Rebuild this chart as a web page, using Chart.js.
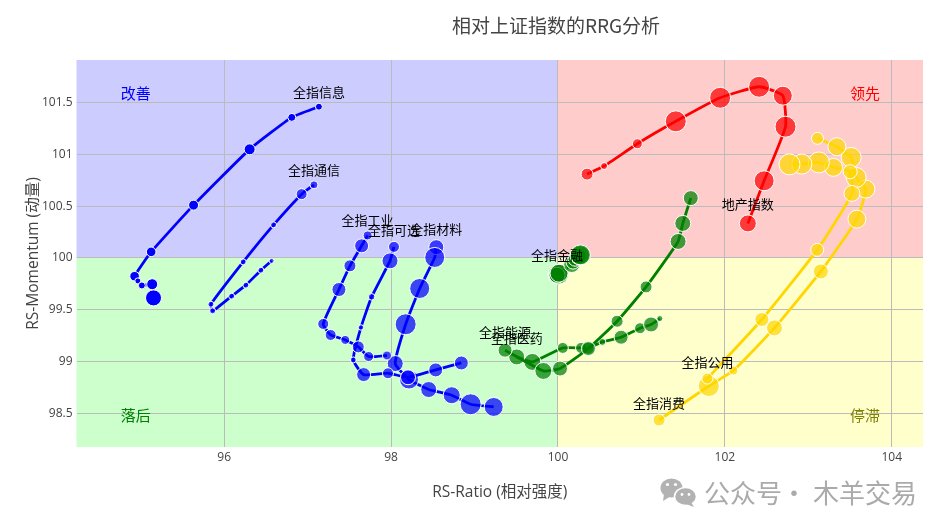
<!DOCTYPE html>
<html><head><meta charset="utf-8">
<style>html,body{margin:0;padding:0;background:#fff}canvas{display:block}</style>
<script src="https://cdn.jsdelivr.net/npm/chart.js@4"></script>
</head><body><canvas id="c" width="948" height="531"></canvas>
<script>
const chartTitle = '相对上证指数的RRG分析';
const xTitle = 'RS-Ratio (相对强度)';
const yTitle = 'RS-Momentum (动量)';
const xTicks = [96, 98, 100, 102, 104];
const yTicks = [98.5, 99, 99.5, 100, 100.5, 101, 101.5];
const quadrantNames = ['改善', '领先', '落后', '停滞'];
const quadrantX = [94.94, 103.68, 94.94, 103.68];
const quadrantY = [101.59, 101.59, 98.484, 98.484];

const xinxiX = [97.135, 96.81, 96.305, 95.633, 95.125, 94.926, 94.965, 95.013, 95.137, 95.153];
const xinxiY = [101.458, 101.355, 101.047, 100.509, 100.059, 99.824, 99.779, 99.735, 99.747, 99.615];
const xinxiM = [35, 40, 55, 50, 48, 48, 30, 35, 55, 80];

const tongxinX = [97.076, 96.928, 96.592, 96.228, 95.841, 95.861, 96.089, 96.26, 96.44, 96.568];
const tongxinY = [100.705, 100.615, 100.319, 99.962, 99.554, 99.49, 99.632, 99.738, 99.882, 99.972];
const tongxinM = [40, 55, 30, 30, 30, 30, 30, 30, 30, 25];

const gongyeX = [97.719, 97.647, 97.507, 97.375, 97.187, 97.276, 97.451, 97.607, 97.731, 97.951];
const gongyeY = [100.217, 100.117, 99.924, 99.696, 99.364, 99.258, 99.21, 99.143, 99.05, 99.06];
const gongyeM = [45, 70, 60, 70, 55, 55, 45, 60, 50, 45];

const kexuanX = [98.035, 97.987, 97.767, 97.639, 97.547, 97.671, 97.963, 98.203, 98.535, 98.842];
const kexuanY = [100.107, 99.972, 99.625, 99.33, 99.017, 98.876, 98.889, 98.85, 98.921, 98.988];
const kexuanM = [55, 80, 33, 27, 30, 70, 55, 75, 70, 70];

const cailiaoX = [98.542, 98.523, 98.343, 98.175, 98.05, 98.215, 98.451, 98.727, 98.954, 99.23];
const cailiaoY = [100.104, 100.005, 99.706, 99.361, 98.982, 98.828, 98.732, 98.677, 98.59, 98.564];
const cailiaoM = [75, 100, 100, 105, 80, 95, 80, 85, 105, 95];

const jinrongX = [99.989, 100.007, 99.989, 100.013, 100.165, 100.181, 100.205, 100.241, 100.265, 100.269];
const jinrongY = [99.839, 99.844, 99.834, 99.853, 99.937, 99.96, 99.988, 100.017, 100.027, 100.03];
const jinrongM = [90, 100, 80, 90, 80, 70, 70, 80, 95, 100];

const nengyuanX = [99.366, 99.825, 100.025, 100.365, 100.709, 101.056, 101.44, 101.496, 101.592];
const nengyuanY = [99.111, 98.911, 98.934, 99.127, 99.39, 99.721, 100.159, 100.333, 100.577];
const nengyuanM = [70, 85, 75, 70, 60, 60, 80, 80, 75];

const yiyaoX = [99.506, 99.693, 100.058, 100.277, 100.361, 100.532, 100.757, 100.984, 101.116, 101.221];
const yiyaoY = [99.046, 98.998, 99.133, 99.133, 99.13, 99.191, 99.236, 99.323, 99.359, 99.416];
const yiyaoM = [80, 85, 55, 55, 60, 35, 70, 55, 75, 30];

const dichanX = [102.276, 102.471, 102.727, 102.695, 102.411, 101.944, 101.412, 100.952, 100.553, 100.349];
const dichanY = [100.333, 100.744, 101.265, 101.564, 101.65, 101.544, 101.317, 101.101, 100.886, 100.808];
const dichanM = [85, 100, 105, 95, 105, 105, 105, 50, 35, 60];

const gongyongX = [101.791, 102.444, 103.107, 103.523, 103.502, 103.302, 103.127, 102.923, 102.775];
const gongyongY = [98.838, 99.407, 100.078, 100.622, 100.831, 100.873, 100.921, 100.905, 100.902];
const gongyongM = [55, 70, 65, 80, 70, 90, 105, 100, 105];

const xiaofeiX = [101.212, 101.808, 102.103, 102.595, 103.151, 103.583, 103.691, 103.574, 103.514, 103.343, 103.11];
const xiaofeiY = [98.438, 98.766, 98.915, 99.326, 99.87, 100.374, 100.664, 100.776, 100.969, 101.072, 101.153];
const xiaofeiM = [60, 105, 45, 80, 75, 90, 90, 100, 100, 90, 60];

const radiusPerUnit = 0.1;
const seriesList = [
  ['全指信息', xinxiX, xinxiY, xinxiM, '0,0,255', 1],
  ['全指通信', tongxinX, tongxinY, tongxinM, '0,0,255', 0.72],
  ['全指工业', gongyeX, gongyeY, gongyeM, '0,0,255', 0.72],
  ['全指可选', kexuanX, kexuanY, kexuanM, '0,0,255', 0.72],
  ['全指材料', cailiaoX, cailiaoY, cailiaoM, '0,0,255', 0.72],
  ['全指金融', jinrongX, jinrongY, jinrongM, '0,128,0', 0.72],
  ['全指能源', nengyuanX, nengyuanY, nengyuanM, '0,128,0', 0.72],
  ['全指医药', yiyaoX, yiyaoY, yiyaoM, '0,128,0', 0.72],
  ['地产指数', dichanX, dichanY, dichanM, '255,0,0', 0.72],
  ['全指公用', gongyongX, gongyongY, gongyongM, '255,215,0', 0.72],
  ['全指消费', xiaofeiX, xiaofeiY, xiaofeiM, '255,215,0', 0.72]
];

const cjk = '"Noto Sans CJK SC","Open Sans",sans-serif';
const latin = '"Open Sans","Noto Sans CJK SC",sans-serif';

const datasets = seriesList.map(([name, xs, ys, ms, rgb, alpha]) => ({
  label: name,
  data: xs.map((x, i) => ({x, y: ys[i]})),
  showLine: true,
  tension: 0.15,
  borderColor: 'rgb(' + rgb + ')',
  borderWidth: 2.8,
  pointBackgroundColor: 'rgba(' + rgb + ',' + alpha + ')',
  pointBorderColor: '#fff',
  pointBorderWidth: 1,
  pointRadius: ms.map(m => m * radiusPerUnit)
}));

const rrgPlugin = {
  id: 'rrg',
  beforeDraw(chart) {
    const {ctx, chartArea: a, scales: {x, y}} = chart;
    const cx = x.getPixelForValue(100), cy = y.getPixelForValue(100);
    ctx.save();
    ctx.fillStyle = '#ccccff'; ctx.fillRect(a.left, a.top, cx - a.left, cy - a.top);
    ctx.fillStyle = '#ffcccc'; ctx.fillRect(cx, a.top, a.right - cx, cy - a.top);
    ctx.fillStyle = '#ccffcc'; ctx.fillRect(a.left, cy, cx - a.left, a.bottom - cy);
    ctx.fillStyle = '#ffffcc'; ctx.fillRect(cx, cy, a.right - cx, a.bottom - cy);
    ctx.restore();
  },
  afterDatasetsDraw(chart) {
    const {ctx, scales: {x, y}} = chart;
    ctx.save();
    ctx.textAlign = 'center';
    ctx.textBaseline = 'middle';
    const qColors = ['#0000ff', '#ff0000', '#008000', '#808000'];
    ctx.font = '15px ' + cjk;
    quadrantNames.forEach((t, i) => {
      ctx.fillStyle = qColors[i];
      ctx.fillText(t, x.getPixelForValue(quadrantX[i]), y.getPixelForValue(quadrantY[i]));
    });
    ctx.font = '13px ' + cjk;
    ctx.fillStyle = '#000';
    seriesList.forEach(([name, xs, ys, ms]) => {
      ctx.fillText(name, x.getPixelForValue(xs[0]),
        y.getPixelForValue(ys[0]) - ms[0] * radiusPerUnit - 11);
    });
    ctx.fillStyle = '#444';
    ctx.font = '19px ' + cjk;
    ctx.fillText(chartTitle, 556, 26);
    // watermark
    ctx.fillStyle = '#b2b2b2';
    ctx.beginPath(); ctx.ellipse(671.5, 488, 11, 9.5, 0, 0, 7); ctx.fill();
    ctx.beginPath(); ctx.moveTo(664, 494); ctx.lineTo(663, 501); ctx.lineTo(671, 496); ctx.fill();
    ctx.strokeStyle = '#fff'; ctx.lineWidth = 1.5;
    ctx.beginPath(); ctx.ellipse(685.5, 496.5, 11, 9, 0, 0, 7); ctx.fill(); ctx.stroke();
    ctx.fillStyle = '#b2b2b2';
    ctx.beginPath(); ctx.moveTo(691, 502); ctx.lineTo(694, 507); ctx.lineTo(686, 504); ctx.fill();
    ctx.fillStyle = '#fff';
    [[667.5, 484.5, 1.6], [675.5, 484.5, 1.6], [682, 494.5, 1.4], [689, 494.5, 1.4]].forEach(([ex, ey, er]) => {
      ctx.beginPath(); ctx.arc(ex, ey, er, 0, 7); ctx.fill();
    });
    ctx.textAlign = 'left';
    ctx.fillStyle = '#aaaaaa';
    ctx.font = '26px ' + cjk;
    ctx.fillText('公众号', 704, 493);
    ctx.fillText('·', 781, 493);
    ctx.fillText('木羊交易', 813, 493);
    ctx.restore();
  }
};

new Chart(document.getElementById('c'), {
  type: 'scatter',
  data: {datasets},
  plugins: [rrgPlugin],
  options: {
    responsive: false,
    animation: false,
    devicePixelRatio: 1,
    layout: {padding: {top: 60, right: 25, left: 0, bottom: 0}},
    plugins: {legend: {display: false}, tooltip: {enabled: false}, title: {display: false}},
    scales: {
      x: {
        type: 'linear', min: 94.23, max: 104.375,
        afterBuildTicks: s => { s.ticks = xTicks.map(value => ({value})); },
        afterFit: s => { s.height = 84; },
        grid: {color: '#bbbbbb', lineWidth: 1, drawTicks: false},
        border: {display: false},
        ticks: {padding: 3, color: '#444', font: {family: latin, size: 12}, maxRotation: 0, callback: v => String(v)},
        title: {display: true, text: xTitle, color: '#444', font: {family: latin, size: 15.5}, padding: {top: 19, bottom: 29}}
      },
      y: {
        type: 'linear', min: 98.178, max: 101.908,
        afterBuildTicks: s => { s.ticks = yTicks.map(value => ({value})); },
        afterFit: s => { s.width = 76.5; },
        grid: {color: '#bbbbbb', lineWidth: 1, drawTicks: false},
        border: {display: false},
        ticks: {padding: 4, color: '#444', font: {family: latin, size: 12}, callback: v => String(v)},
        title: {display: true, text: yTitle, color: '#444', font: {family: latin, size: 15.5}, padding: {top: 24, bottom: 0}}
      }
    }
  }
});
</script></body></html>
